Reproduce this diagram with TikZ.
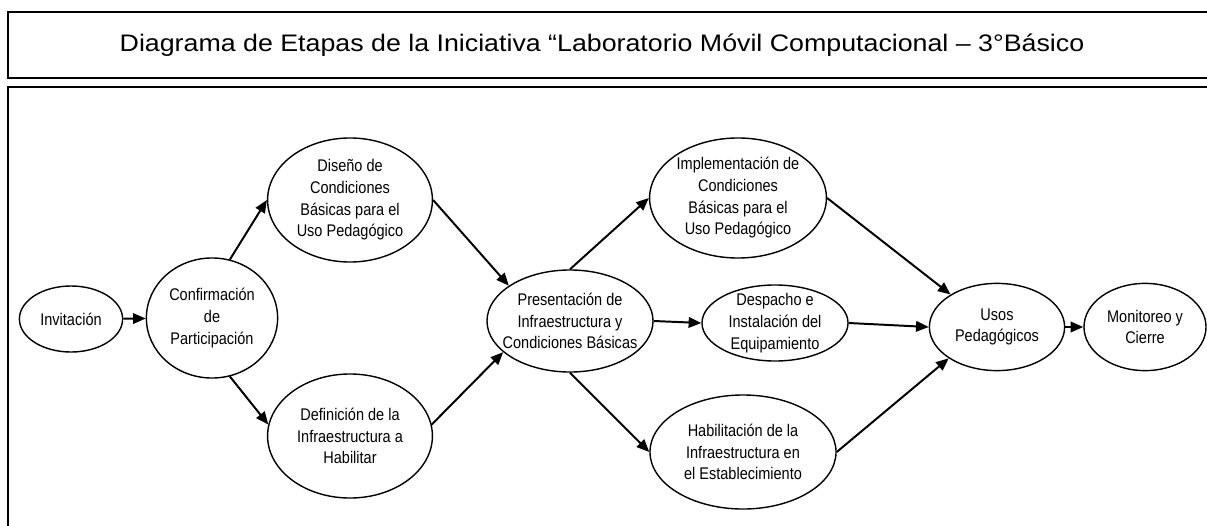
\documentclass[tikz,border=0pt]{standalone}
\usepackage{fontspec}
\setmainfont{Liberation Sans}
\newfontfamily\etapafont{Liberation Sans}[FakeStretch=0.86]
\newfontfamily\titulofont{Liberation Sans}[FakeStretch=1.12]
\usetikzlibrary{shapes.geometric,arrows.meta}

\begin{document}
\begin{tikzpicture}[x=0.025cm,y=-0.025cm,
    etapa/.style={shape=ellipse,draw=black,line width=1pt,inner sep=0pt},
    texto/.style={align=center,inner sep=0pt,font=\etapafont\fontsize{12}{15.4}\selectfont},
    flecha/.style={line width=1.4pt,-{Triangle[length=9pt,width=7.5pt]}},
    marco/.style={draw=black,line width=1.4pt}]
        \useasboundingbox (0,0) rectangle (1207,525);
        \draw[marco] (8,12) rectangle (1225,78);
        \draw[marco] (8,87) rectangle (1225,545);
        \node[font=\titulofont\fontsize{17}{20}\selectfont] (titulo) at (602,45) {Diagrama de Etapas de la Iniciativa “Laboratorio Móvil Computacional – 3°Básico};

        \node[etapa,minimum width=2.58cm,minimum height=1.65cm,label={[texto]center:Invitación}] (inv) at (71,319) {};
        \node[etapa,minimum width=3.28cm,minimum height=3cm,label={[texto]center:Confirmación\\de\\Participación}] (conf) at (212,318) {};
        \node[etapa,minimum width=4.12cm,minimum height=3.1cm,label={[texto]center:Diseño de\\Condiciones\\Básicas para el\\Uso Pedagógico}] (dis) at (350,200) {};
        \node[etapa,minimum width=4.12cm,minimum height=3.1cm,label={[texto]center:Definición de la\\Infraestructura a\\Habilitar}] (def) at (350,436) {};
        \node[etapa,minimum width=4.15cm,minimum height=2.55cm,label={[texto]center:Presentación de\\Infraestructura y\\Condiciones Básicas}] (pres) at (570,321) {};
        \node[etapa,minimum width=4.42cm,minimum height=3cm,label={[texto]center:Implementación de\\Condiciones\\Básicas para el\\Uso Pedagógico}] (impl) at (738,198) {};
        \node[etapa,minimum width=3.65cm,minimum height=1.9cm,label={[texto]center:Despacho e\\Instalación del\\Equipamiento}] (desp) at (775,323) {};
        \node[etapa,minimum width=4.65cm,minimum height=2.85cm,label={[texto]center:Habilitación de la\\Infraestructura en\\el Establecimiento}] (hab) at (743,452) {};
        \node[etapa,minimum width=3.38cm,minimum height=2.18cm,label={[texto]center:Usos\\Pedagógicos}] (usos) at (997,327) {};
        \node[etapa,minimum width=3.05cm,minimum height=2.18cm,label={[texto]center:Monitoreo y\\Cierre}] (mon) at (1145,327) {};

        \path [flecha] (inv) edge (conf);
        \path [flecha] (conf.73) edge (dis.west);
        \path [flecha] (conf.-73) edge (def.172);
        \path [flecha] (dis.east) edge (pres.150);
        \path [flecha] (def.8) edge (pres.205);
        \path [flecha] (pres.north) edge (impl.west);
        \path [flecha] (pres.east) edge (desp.west);
        \path [flecha] (pres.south) edge (hab.west);
        \path [flecha] (impl.east) edge (usos.145);
        \path [flecha] (desp.east) edge (usos.west);
        \path [flecha] (hab.east) edge (usos.213);
        \path [flecha] (usos) edge (mon);
    \end{tikzpicture}
\end{document}
